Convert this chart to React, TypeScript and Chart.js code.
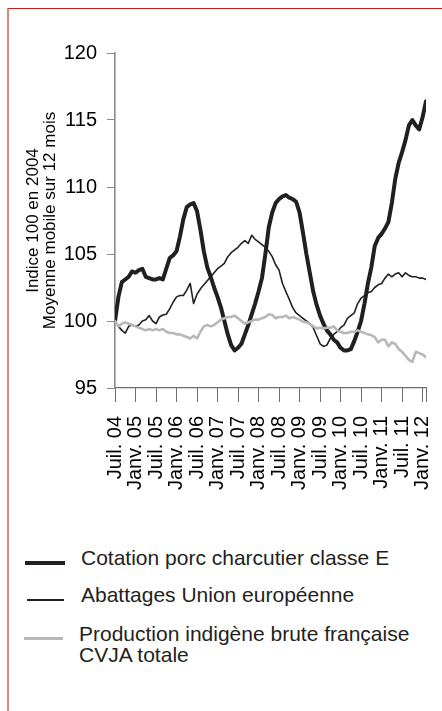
import React, { useEffect, useRef } from "react";
import { Chart, registerables } from "chart.js";

Chart.register(...registerables);

const FONT = "'Liberation Sans', Arial, Helvetica, sans-serif";

const tickLabels = [
  "Juil. 04", "Janv. 05", "Juil. 05", "Janv. 06", "Juil. 06", "Janv. 07",
  "Juil. 07", "Janv. 08", "Juil. 08", "Janv. 09", "Juil. 09", "Janv. 10",
  "Juil. 10", "Janv. 11", "Juil. 11", "Janv. 12",
];

const yTitle = ["Indice 100 en 2004", "Moyenne mobile sur 12 mois"];

const seriesNames = [
  ["Cotation porc charcutier classe E"],
  ["Abattages Union européenne"],
  ["Production indigène brute française", "CVJA totale"],
];

// Monthly values, July 2004 -> February 2012
const cotation = [
  100.0, 101.8, 102.9, 103.1, 103.3, 103.7, 103.6, 103.8, 103.9, 103.3,
  103.2, 103.1, 103.1, 103.2, 103.1, 103.9, 104.7, 104.9, 105.2, 106.3,
  107.6, 108.5, 108.7, 108.8, 108.2, 106.8, 105.2, 104.0, 103.3, 102.5,
  101.8, 101.0, 100.0, 99.0, 98.2, 97.8, 98.0, 98.3, 99.0, 99.7,
  100.5, 101.3, 102.2, 103.2, 105.0, 107.0, 108.1, 108.8, 109.1, 109.3,
  109.4, 109.2, 109.1, 108.9, 108.1, 106.6, 105.0, 103.6, 102.2, 101.2,
  100.4, 99.8, 99.3, 99.0, 98.6, 98.4, 98.0, 97.8, 97.8, 97.9,
  98.5, 99.2, 100.0, 101.3, 102.8, 104.0, 105.6, 106.2, 106.5, 106.9,
  107.4, 108.8, 110.6, 111.8, 112.6, 113.5, 114.6, 115.0, 114.6, 114.3,
  115.2, 116.4,
];

const abattages = [
  100.0, 99.6, 99.3, 99.1, 99.6, 99.7, 99.6, 99.7, 100.0, 100.1,
  100.4, 100.0, 99.8, 100.3, 100.45, 100.5, 100.9, 101.4, 101.8, 101.9,
  101.9, 102.3, 102.8, 101.3, 102.0, 102.4, 102.7, 103.0, 103.3, 103.6,
  103.9, 104.1, 104.3, 104.8, 105.1, 105.3, 105.5, 105.8, 106.0, 105.8,
  106.4, 106.1, 105.9, 105.7, 105.5, 105.2, 104.8, 104.2, 103.8, 102.8,
  102.2, 101.6, 101.0, 100.6, 100.4, 100.2, 100.0, 99.8, 99.5, 98.9,
  98.3, 98.1, 98.2, 98.7, 99.0, 99.2, 99.5, 99.7, 100.2, 100.4,
  100.6, 101.3, 101.7, 101.9, 102.1, 102.2, 102.5, 102.7, 102.8, 103.2,
  103.5, 103.3, 103.5, 103.6, 103.3, 103.6, 103.4, 103.3, 103.3, 103.2,
  103.2, 103.1,
];

const production = [
  100.0, 99.6, 99.8, 99.9, 99.8, 99.7, 99.6, 99.5, 99.4, 99.3,
  99.4, 99.3, 99.4, 99.3, 99.4, 99.2, 99.1, 99.1, 99.0, 99.0,
  98.9, 98.8, 98.7, 98.9, 98.7, 99.2, 99.6, 99.7, 99.6, 99.7,
  99.9, 100.1, 100.2, 100.3, 100.3, 100.4, 100.2, 100.0, 99.8, 99.9,
  100.0, 100.1, 100.1, 100.2, 100.3, 100.5, 100.45, 100.2, 100.3, 100.3,
  100.4, 100.2, 100.3, 100.2, 100.1, 99.95, 99.9, 99.8, 99.6, 99.45,
  99.5, 99.45, 99.5, 99.5, 99.6, 99.3, 99.2, 99.1, 99.1, 99.2,
  99.2, 99.3, 99.2, 99.1, 99.0, 98.95, 98.8, 98.4, 98.6, 98.6,
  98.1, 98.4, 98.3, 97.9, 97.7, 97.4, 97.1, 96.95, 97.7, 97.6,
  97.5, 97.3,
];

const seriesColors = ["#231f20", "#231f20", "#b8b8b8"];
const seriesWidths = [4, 1.6, 2.6];

const legendRows = [
  { lineLeft: 16, lineTop: 551.5, lineW: 40, lineH: 4, textLeft: 72, textTop: 537.5 },
  { lineLeft: 17.5, lineTop: 590, lineW: 37, lineH: 2, textLeft: 72, textTop: 575 },
  { lineLeft: 15, lineTop: 628, lineW: 39, lineH: 3, textLeft: 70, textTop: 614 },
];

export default function App() {
  const ref = useRef<HTMLCanvasElement | null>(null);

  useEffect(() => {
    if (!ref.current) return;
    const toPoints = (arr: number[]) => arr.map((y, i) => ({ x: i, y }));
    const all = [cotation, abattages, production];
    const chart = new Chart(ref.current, {
      type: "line",
      data: {
        datasets: all.map((arr, k) => ({
          label: seriesNames[k].join(" "),
          data: toPoints(arr),
          borderColor: seriesColors[k],
          borderWidth: seriesWidths[k],
          pointRadius: 0,
          tension: 0,
          fill: false,
          borderJoinStyle: "round" as const,
          borderCapStyle: "round" as const,
        })).reverse(),
      },
      options: {
        animation: false,
        responsive: false,
        maintainAspectRatio: false,
        layout: { padding: { top: 44, right: 16, bottom: 0, left: 0 } },
        plugins: { legend: { display: false }, tooltip: { enabled: false } },
        scales: {
          x: {
            type: "linear",
            min: 0,
            max: 91,
            afterBuildTicks: (s: any) => {
              s.ticks = [...tickLabels.map((_, k) => ({ value: k * 6 })), { value: 91 }];
            },
            afterFit: (s: any) => {
              s.height = 151;
              s.paddingLeft = 0;
              s.paddingRight = 0;
            },
            border: { display: true, color: "#6e6e6e", width: 1.2 },
            grid: { drawOnChartArea: false, drawTicks: true, tickLength: 14, color: "#6e6e6e", lineWidth: 1 },
            ticks: {
              autoSkip: false,
              maxRotation: 90,
              minRotation: 90,
              padding: 14,
              color: "#000",
              font: { family: FONT, size: 20 },
              callback: (v: any) => tickLabels[v / 6] ?? "",
            },
          },
          y: {
            min: 95,
            max: 120,
            afterFit: (s: any) => {
              s.width = 106;
            },
            border: { display: true, color: "#8a8a8a", width: 1.6 },
            grid: { drawOnChartArea: false, drawTicks: true, tickLength: 8, color: "#8a8a8a", lineWidth: 1 },
            ticks: {
              stepSize: 5,
              padding: 10,
              color: "#000",
              font: { family: FONT, size: 20 },
            },
            title: {
              display: true,
              text: yTitle,
              color: "#000",
              font: { family: FONT, size: 17, lineHeight: 1.05 },
              padding: { top: 15, bottom: 0 },
            },
          },
        },
      },
    });
    return () => chart.destroy();
  }, []);

  return (
    <div
      style={{
        position: "absolute",
        left: 7,
        top: 8,
        width: 435,
        height: 703,
        boxSizing: "border-box",
        borderTop: "1px solid #c8201e",
        borderLeft: "2px solid #d98884",
        background: "#fff",
        fontFamily: FONT,
        overflow: "hidden",
      }}
    >
      <canvas
        ref={ref}
        width={433}
        height={530}
        style={{ position: "absolute", left: 0, top: 0, width: 433, height: 530, display: "block" }}
      />
      {legendRows.map((r, k) => (
        <React.Fragment key={k}>
          <div
            style={{
              position: "absolute",
              left: r.lineLeft,
              top: r.lineTop,
              width: r.lineW,
              height: r.lineH,
              background: seriesColors[k],
            }}
          />
          <div
            style={{
              position: "absolute",
              left: r.textLeft,
              top: r.textTop,
              fontSize: 21,
              lineHeight: "21px",
              color: "#231f20",
              whiteSpace: "nowrap",
            }}
          >
            {seriesNames[k].map((line, j) => (
              <div key={j}>{line}</div>
            ))}
          </div>
        </React.Fragment>
      ))}
    </div>
  );
}
